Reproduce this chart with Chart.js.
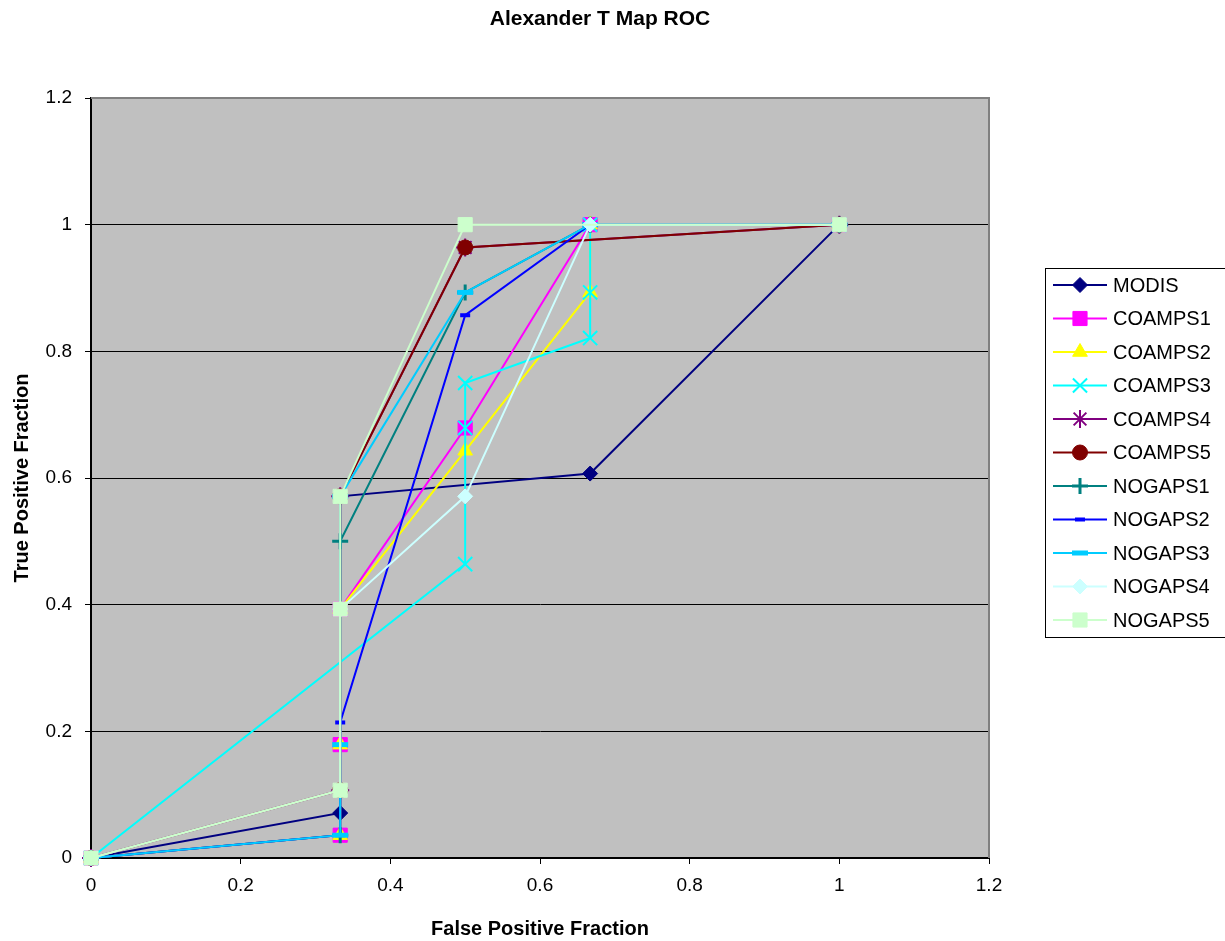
<!DOCTYPE html>
<html>
<head>
<meta charset="utf-8">
<title>Alexander T Map ROC</title>
<script src="https://cdn.jsdelivr.net/npm/chart.js"></script>
<style>
  body { margin: 0; background: #ffffff; }
  #wrap { width: 1225px; height: 941px; }
</style>
</head>
<body>
<div id="wrap"><canvas id="myChart" width="1225" height="941"></canvas></div>
<script>
// series names, in legend order
var seriesNames = ["MODIS", "COAMPS1", "COAMPS2", "COAMPS3", "COAMPS4", "COAMPS5",
                   "NOGAPS1", "NOGAPS2", "NOGAPS3", "NOGAPS4", "NOGAPS5"];

// false positive fraction (x) and true positive fraction (y) per series
var modisFpf    = [0, 0.333, 0.333, 0.667, 1];
var modisTpf    = [0, 0.071, 0.571, 0.607, 1];
var coamps1Fpf  = [0, 0.333, 0.333, 0.333, 0.5, 0.667, 1];
var coamps1Tpf  = [0, 0.036, 0.179, 0.393, 0.679, 1, 1];
var coamps2Fpf  = [0, 0.333, 0.333, 0.333, 0.5, 0.667, 0.667, 1];
var coamps2Tpf  = [0, 0.036, 0.179, 0.393, 0.643, 0.893, 1, 1];
var coamps3Fpf  = [0, 0.5, 0.5, 0.5, 0.667, 0.667, 0.667, 1];
var coamps3Tpf  = [0, 0.464, 0.679, 0.75, 0.821, 0.893, 1, 1];
var coamps4Fpf  = [0, 0.333, 0.333, 0.5, 1];
var coamps4Tpf  = [0, 0.107, 0.571, 0.964, 1];
var coamps5Fpf  = [0, 0.333, 0.333, 0.5, 1];
var coamps5Tpf  = [0, 0.107, 0.571, 0.964, 1];
var nogaps1Fpf  = [0, 0.333, 0.333, 0.5, 0.667, 1];
var nogaps1Tpf  = [0, 0.036, 0.5, 0.893, 1, 1];
var nogaps2Fpf  = [0, 0.333, 0.333, 0.5, 0.667, 1];
var nogaps2Tpf  = [0, 0.036, 0.214, 0.857, 1, 1];
var nogaps3Fpf  = [0, 0.333, 0.333, 0.333, 0.5, 0.667, 1];
var nogaps3Tpf  = [0, 0.036, 0.179, 0.571, 0.893, 1, 1];
var nogaps4Fpf  = [0, 0.333, 0.333, 0.5, 0.667, 1];
var nogaps4Tpf  = [0, 0.107, 0.393, 0.571, 1, 1];
var nogaps5Fpf  = [0, 0.333, 0.333, 0.333, 0.5, 1];
var nogaps5Tpf  = [0, 0.107, 0.393, 0.571, 1, 1];

var tickValues = [0, 0.2, 0.4, 0.6, 0.8, 1, 1.2];

var allFpf = [modisFpf, coamps1Fpf, coamps2Fpf, coamps3Fpf, coamps4Fpf, coamps5Fpf,
              nogaps1Fpf, nogaps2Fpf, nogaps3Fpf, nogaps4Fpf, nogaps5Fpf];
var allTpf = [modisTpf, coamps1Tpf, coamps2Tpf, coamps3Tpf, coamps4Tpf, coamps5Tpf,
              nogaps1Tpf, nogaps2Tpf, nogaps3Tpf, nogaps4Tpf, nogaps5Tpf];

// look of each series (Excel-like markers)
var lineColors = ["#000080", "#FF00FF", "#FFFF00", "#00FFFF", "#800080", "#800000",
                  "#008080", "#0000FF", "#00CCFF", "#CCFFFF", "#CCFFCC"];
var markerStyles = [
  { pointStyle: "rectRot",  radius: 7.5, border: 1 },
  { pointStyle: "rect",     radius: 10,  border: 1 },
  { pointStyle: "triangle", radius: 8.5, border: 1 },
  { pointStyle: "crossRot", radius: 10,  border: 2 },
  { pointStyle: "star",     radius: 9,   border: 2 },
  { pointStyle: "circle",   radius: 7.5, border: 1 },
  { pointStyle: "cross",    radius: 8,   border: 3 },
  { pointStyle: "line",     radius: 5,   border: 4 },
  { pointStyle: "line",     radius: 8,   border: 5 },
  { pointStyle: "rectRot",  radius: 7.5, border: 1 },
  { pointStyle: "rect",     radius: 10,  border: 1 }
];

var fontFamily = "'Liberation Sans', Arial, sans-serif";

var datasets = seriesNames.map(function (name, i) {
  var pts = allFpf[i].map(function (x, j) { return { x: x, y: allTpf[i][j] }; });
  var m = markerStyles[i];
  return {
    label: name,
    data: pts,
    showLine: true,
    tension: 0,
    borderColor: lineColors[i],
    backgroundColor: lineColors[i],
    borderWidth: 2,
    pointStyle: m.pointStyle,
    pointRadius: m.radius,
    pointBorderWidth: m.border,
    pointBackgroundColor: lineColors[i],
    pointBorderColor: lineColors[i],
    pointHoverRadius: m.radius,
    clip: false,
    order: seriesNames.length - 1 - i   // later series drawn on top, like Excel
  };
});

function fmtTick(v) {
  return String(Number(v.toFixed(1)));
}

var plotBackground = {
  id: "plotBackground",
  beforeDraw: function (chart) {
    var a = chart.chartArea, ctx = chart.ctx;
    ctx.save();
    ctx.fillStyle = "#ffffff";
    ctx.fillRect(0, 0, chart.width, chart.height);
    ctx.fillStyle = "#C0C0C0";
    ctx.fillRect(a.left, a.top, a.right - a.left, a.bottom - a.top);
    ctx.restore();
  },
  afterDraw: function (chart) {
    var a = chart.chartArea, ctx = chart.ctx;
    ctx.save();
    // grey frame on top and right of the plot
    ctx.strokeStyle = "#808080";
    ctx.lineWidth = 2;
    ctx.beginPath();
    ctx.moveTo(a.left, a.top);
    ctx.lineTo(a.right, a.top);
    ctx.lineTo(a.right, a.bottom);
    ctx.stroke();

    // title
    ctx.fillStyle = "#000000";
    ctx.font = "bold 21px " + fontFamily;
    ctx.textAlign = "center";
    ctx.textBaseline = "middle";
    ctx.fillText("Alexander T Map ROC", 600, 19);

    // legend box
    var bx = 1045.5, by = 268.5, bw = 182, bh = 369;
    ctx.lineWidth = 1;
    ctx.strokeStyle = "#000000";
    ctx.strokeRect(bx, by, bw, bh);
    ctx.font = "20px " + fontFamily;
    ctx.textAlign = "left";
    var rowH = 33.5;
    seriesNames.forEach(function (name, i) {
      var cy = 285 + i * rowH;
      ctx.strokeStyle = lineColors[i];
      ctx.lineWidth = 2;
      ctx.beginPath();
      ctx.moveTo(1053, cy);
      ctx.lineTo(1107, cy);
      ctx.stroke();
      var m = markerStyles[i];
      ctx.fillStyle = lineColors[i];
      ctx.strokeStyle = lineColors[i];
      ctx.lineWidth = m.border;
      if (Chart.helpers && Chart.helpers.drawPoint) {
        Chart.helpers.drawPoint(ctx, { pointStyle: m.pointStyle, radius: m.radius, borderWidth: m.border, rotation: 0 }, 1080, cy);
      }
      ctx.fillStyle = "#000000";
      ctx.fillText(name, 1113, cy + 1);
    });
    ctx.restore();
  }
};

var ctx = document.getElementById("myChart").getContext("2d");
var config = {
  type: "scatter",
  data: { datasets: datasets },
  options: {
    responsive: false,
    animation: false,
    events: [],
    layout: { padding: { top: 98, right: 236, bottom: 0, left: 0 } },
    plugins: {
      legend: { display: false },
      title: { display: false },
      tooltip: { enabled: false }
    },
    scales: {
      x: {
        type: "linear",
        min: 0,
        max: 1.2,
        afterFit: function (s) { s.height = 83; },
        afterBuildTicks: function (s) { s.ticks = tickValues.map(function (v) { return { value: v }; }); },
        ticks: {
          callback: fmtTick,
          color: "#000000",
          padding: 10,
          maxRotation: 0,
          font: { family: fontFamily, size: 19 }
        },
        grid: { drawOnChartArea: false, drawTicks: true, tickLength: 6, tickColor: "#000000", tickWidth: 1 },
        border: { display: true, color: "#000000", width: 2 },
        title: {
          display: true,
          text: "False Positive Fraction",
          color: "#000000",
          padding: { top: 0, bottom: 0 },
          font: { family: fontFamily, size: 20, weight: "bold" }
        }
      },
      y: {
        type: "linear",
        min: 0,
        max: 1.2,
        afterFit: function (s) { s.width = 91; },
        afterBuildTicks: function (s) { s.ticks = tickValues.map(function (v) { return { value: v }; }); },
        ticks: {
          callback: fmtTick,
          color: "#000000",
          padding: 13,
          font: { family: fontFamily, size: 19 }
        },
        grid: {
          drawOnChartArea: true,
          drawTicks: true,
          tickLength: 6,
          tickColor: "#000000",
          lineWidth: 1,
          color: function (c) {
            if (c.tick && c.tick.value > 1.1) return "#808080";
            return "#000000";
          }
        },
        border: { display: true, color: "#000000", width: 2 },
        title: {
          display: true,
          text: "True Positive Fraction",
          color: "#000000",
          padding: { top: 10, bottom: 0 },
          font: { family: fontFamily, size: 20, weight: "bold" }
        }
      }
    }
  },
  plugins: [plotBackground]
};

var myChart = new Chart(ctx, config);
</script>
</body>
</html>
